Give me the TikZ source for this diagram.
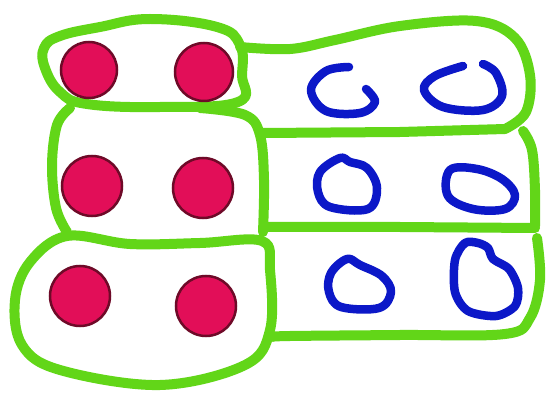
\documentclass[tikz,border=0pt]{standalone}
\begin{document}
\begin{tikzpicture}[x=1pt,y=-1pt,
  grn/.style={draw=gline,line width=10pt,line cap=round,line join=round},
  dotr/.style={fill=dotfill,draw=dotedge,line width=2.5pt},
  blu/.style={draw=bline,line width=8.5pt,line cap=round,line join=round}]
\definecolor{gline}{RGB}{98,214,24}
\definecolor{dotfill}{RGB}{226,14,88}
\definecolor{dotedge}{RGB}{110,10,40}
\definecolor{bline}{RGB}{12,24,200}
\useasboundingbox (0,0) rectangle (552,398);
\fill[white] (0,0) rectangle (552,398);
% row 1 left box
\draw[grn] plot[smooth cycle,tension=0.7] coordinates {(60,36) (100,27) (150,19) (217,27) (240,45) (242,75) (238,102) (160,107) (87,104) (60,92) (45,68) (44,48)};
% row 1 right region
\draw[grn] plot[smooth,tension=0.6] coordinates {(240,47) (290,49) (335,40) (400,26) (476,21) (515,38) (530,75) (526,112) (505,129)};
\draw[grn] (262,133) -- (400,132) -- (505,129);
% row 2 left box
\draw[grn] plot[smooth,tension=0.6] coordinates {(70,108) (57,125) (52,165) (56,208) (67,232)};
\draw[grn] plot[smooth,tension=0.6] coordinates {(200,108) (245,115) (260,135) (264,180) (263,232)};
% row 2 right region
\draw[grn] plot[smooth,tension=0.6] coordinates {(523,131) (532,150) (535,190) (535,226)};
% row 3 left box
\draw[grn] plot[smooth cycle,tension=0.6] coordinates {(67,236) (130,244) (200,243) (262,241) (270,270) (270,330) (245,365) (160,385) (60,370) (22,345) (15,300) (30,262)};
% row 3 right region
\draw[grn] (265,227) -- (400,227) -- (535,228);
\draw[grn] plot[smooth,tension=0.6] coordinates {(537,238) (540,280) (530,318) (505,334) (400,335) (290,336) (272,337)};
% red dots
\node[dotr,circle,minimum size=56pt,inner sep=0pt] (d11) at (89,70) {};
\node[dotr,circle,minimum size=58pt,inner sep=0pt] (d12) at (204,72) {};
\node[dotr,circle,minimum size=60pt,inner sep=0pt] (d21) at (92,186) {};
\node[dotr,circle,minimum size=60pt,inner sep=0pt] (d22) at (203,188) {};
\node[dotr,circle,minimum size=60pt,inner sep=0pt] (d31) at (80,296) {};
\node[dotr,circle,minimum size=60pt,inner sep=0pt] (d32) at (206,306) {};
% blue loops
\draw[blu] plot[smooth,tension=0.6] coordinates {(349,67) (326,71) (311,90) (326,111) (360,113) (375,102) (366,89)};
\draw[blu] plot[smooth,tension=0.6] coordinates {(463,66) (435,76) (424,90) (443,107) (483,110) (502,96) (496,73) (483,64)};
\draw[blu] plot[smooth cycle,tension=0.6] coordinates {(340,158) (320,172) (318,192) (330,207) (368,209) (377,188) (367,168) (350,162)};
\draw[blu] plot[smooth cycle,tension=0.6] coordinates {(450,170) (448,196) (473,209) (505,209) (515,195) (502,179) (477,169)};
\draw[blu] plot[smooth cycle,tension=0.6] coordinates {(347,259) (331,273) (329,292) (341,307) (379,308) (391,292) (382,276) (360,265)};
\draw[blu] plot[smooth cycle,tension=0.5] coordinates {(465,243) (455,260) (455,292) (468,311) (496,316) (515,306) (518,288) (509,269) (493,259) (488,248) (478,243)};
\end{tikzpicture}
\end{document}
